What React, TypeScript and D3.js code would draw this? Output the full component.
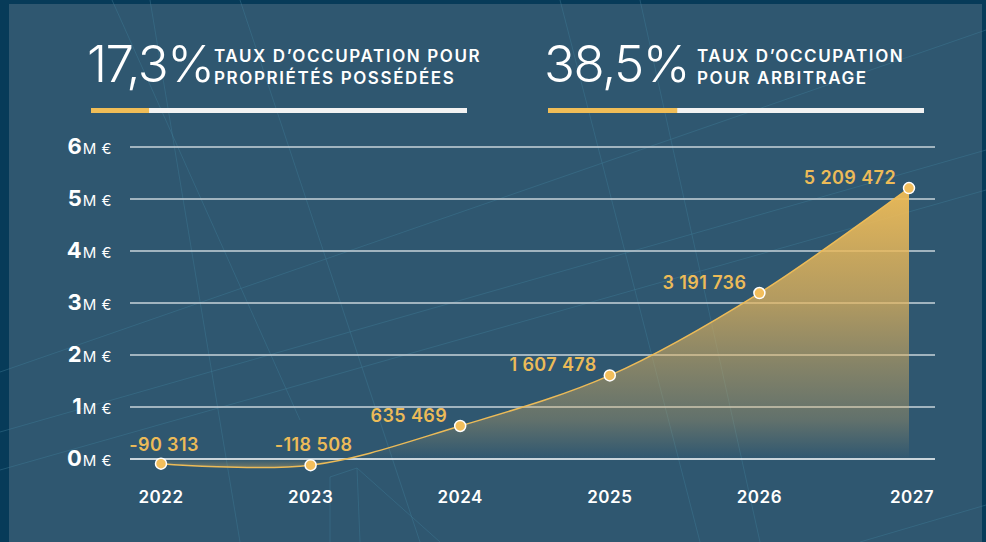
import React from "react";
import * as d3 from "d3";

const years = ["2022", "2023", "2024", "2025", "2026", "2027"];
const values = [-90313, -118508, 635469, 1607478, 3191736, 5209472];
const yTicks = [0, 1, 2, 3, 4, 5, 6];
const kpiValues = [17.3, 38.5];
const kpiTexts = ["17,3%", "38,5%"];
const kpiLabels = [
  ["TAUX D’OCCUPATION POUR", "PROPRIÉTÉS POSSÉDÉES"],
  ["TAUX D’OCCUPATION", "POUR ARBITRAGE"],
];

const W = 986;
const H = 542;
const BG = "#2f5770";
const FRAME = "#073b59";
const GOLD = "#ecbb58";
const FONT = "Inter, 'Open Sans', sans-serif";

const decoLines: [number, number, number, number][] = [
  [112, 0, 300, 420],
  [150, 0, 240, 542],
  [0, 372, 986, 30],
  [0, 432, 986, 150],
  [0, 470, 986, 190],
  [560, 0, 700, 542],
  [640, 0, 760, 542],
  [357, 468, 330, 477],
  [330, 477, 330, 542],
  [357, 468, 440, 542],
  [357, 468, 360, 542],
  [860, 542, 986, 505],
  [240, 0, 420, 542],
];

export default function App() {
  const x = d3.scalePoint<string>().domain(years).range([161, 909]);
  const y = d3.scaleLinear().domain([0, 6e6]).range([459, 147]);
  const gridX0 = 130;
  const gridX1 = 935;

  const data = years.map((yr, i) => ({ yr, v: values[i] }));
  const curve = d3.curveCatmullRom.alpha(0.5);
  const line = d3
    .line<{ yr: string; v: number }>()
    .x((d) => x(d.yr)!)
    .y((d) => y(d.v))
    .curve(curve);
  const area = d3
    .area<{ yr: string; v: number }>()
    .x((d) => x(d.yr)!)
    .y0(y(0))
    .y1((d) => y(d.v))
    .curve(curve);

  const fmt = d3
    .formatLocale({
      decimal: ",",
      thousands: " ",
      grouping: [3],
      currency: ["", " €"],
      minus: "-",
    })
    .format(",d");

  const gTop = y(d3.max(values)!) - 5;
  const gBot = y(d3.min(values)!) + 10;
  const off = (py: number) => (py - gTop) / (gBot - gTop);

  const kpiScale = d3.scaleLinear().domain([0, 112]).range([0, 376]);
  const kpiX = [91, 548];

  return (
    <svg
      width={W}
      height={H}
      style={{ position: "absolute", left: 0, top: 0 }}
      fontFamily={FONT}
    >
      <defs>
        <linearGradient
          id="areaGrad"
          gradientUnits="userSpaceOnUse"
          x1={0}
          x2={0}
          y1={gTop}
          y2={gBot}
        >
          <stop offset={0} stopColor="#f0bd57" stopOpacity={0.97} />
          <stop offset={off(300)} stopColor="#e6b55a" stopOpacity={0.72} />
          <stop offset={off(420)} stopColor="#d8ae62" stopOpacity={0.3} />
          <stop offset={off(459)} stopColor="#d8ae62" stopOpacity={0.0} />
          <stop offset={1} stopColor="#e8b85a" stopOpacity={0.7} />
        </linearGradient>
      </defs>
      <rect x={0} y={0} width={W} height={H} fill={FRAME} />
      <rect x={9} y={4} width={982 - 9} height={H - 4} fill={BG} />
      <g stroke="#3f7a95" strokeOpacity={0.45} strokeWidth={1}>
        {decoLines.map((l, i) => (
          <line key={i} x1={l[0]} y1={l[1]} x2={l[2]} y2={l[3]} />
        ))}
      </g>

      {/* KPI header */}
      {kpiValues.map((v, i) => (
        <g key={i}>
          <text
            x={kpiX[i] - 4}
            y={82}
            fill="#ffffff"
            fontSize={51}
            fontWeight={300}
            letterSpacing={-1.5}
          >
            {kpiTexts[i]}
          </text>
          {kpiLabels[i].map((t, j) => (
            <text
              key={j}
              x={kpiX[i] + (i === 0 ? 123 : 149)}
              y={62 + j * 22}
              fill="#ffffff"
              fontSize={17}
              fontWeight={600}
              letterSpacing={1.6}
            >
              {t}
            </text>
          ))}
          <rect x={kpiX[i]} y={108} width={376} height={5} fill="#f2f2f2" />
          <rect
            x={kpiX[i]}
            y={108}
            width={kpiScale(v)}
            height={5}
            fill="#f0bd57"
          />
        </g>
      ))}

      {/* grid */}
      {yTicks.map((t) => (
        <g key={t}>
          <line
            x1={gridX0}
            x2={gridX1}
            y1={y(t * 1e6)}
            y2={y(t * 1e6)}
            stroke={t === 0 ? "#ffffff" : "#c9d3da"}
            strokeWidth={1.5}
          />
          <text
            x={112}
            y={y(t * 1e6) + 7}
            textAnchor="end"
            fill="#ffffff"
          >
            <tspan fontSize={22} fontWeight={700}>
              {t}
            </tspan>
            <tspan fontSize={15} fontWeight={400} dx={1} letterSpacing={0.5}>
              M €
            </tspan>
          </text>
        </g>
      ))}

      {/* area + line */}
      <path d={area(data) || ""} fill="url(#areaGrad)" />
      <line
        x1={x(years[0])}
        x2={x(years[0])}
        y1={y(0)}
        y2={y(values[0])}
        stroke={GOLD}
        strokeWidth={1.5}
      />
      <path d={line(data) || ""} fill="none" stroke={GOLD} strokeWidth={1.5} />

      {data.map((d) => (
        <circle
          key={d.yr}
          cx={x(d.yr)}
          cy={y(d.v)}
          r={5.5}
          fill="#f2be5c"
          stroke="#ffffff"
          strokeWidth={1.5}
        />
      ))}

      {data.map((d) => {
        const neg = d.v < 0;
        return (
          <text
            key={"l" + d.yr}
            x={neg ? x(d.yr)! + 3 : x(d.yr)! - 13}
            y={neg ? y(0) - 8 : y(d.v) - 4}
            textAnchor={neg ? "middle" : "end"}
            fill={GOLD}
            fontSize={18}
            fontWeight={600}
            letterSpacing={0.4}
          >
            {fmt(d.v)}
          </text>
        );
      })}

      {years.map((yr) => (
        <text
          key={"x" + yr}
          x={x(yr)! + (yr === "2027" ? 3 : 0)}
          y={503}
          textAnchor="middle"
          fill="#ffffff"
          fontSize={17}
          fontWeight={600}
          letterSpacing={0.5}
        >
          {yr}
        </text>
      ))}
    </svg>
  );
}
